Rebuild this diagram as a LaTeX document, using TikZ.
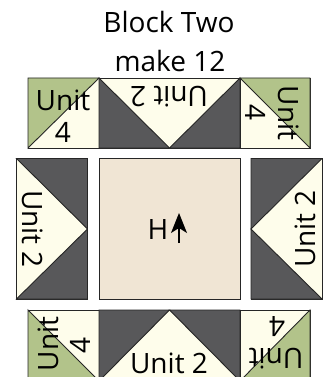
\documentclass[tikz,border=0pt]{standalone}
\usepackage{fontspec}
\usetikzlibrary{arrows.meta}
\setmainfont{Open Sans}
\definecolor{cream}{HTML}{FEFDEB}
\definecolor{dark}{HTML}{58585A}
\definecolor{leaf}{HTML}{B2C38A}
\definecolor{tan}{HTML}{F0E5D4}
\tikzset{
  patch/.style={draw=black!85,line width=0.9pt,line join=miter},
  lab/.style={inner sep=0pt,font=\fontsize{28}{28}\selectfont,text=black},
  titletext/.style={inner sep=0pt,font=\fontsize{28}{28}\selectfont,text=black}
}
\begin{document}
\begin{tikzpicture}[x=1pt,y=-1pt]
\useasboundingbox (0,0) rectangle (323,377);
\clip (0,0) rectangle (323,377);
\fill[white] (0,0) rectangle (323,377);
% top row
\filldraw[patch,fill=cream] (28,78) rectangle (99,148);
\filldraw[patch,fill=leaf] (28,148) -- (28,78) -- (99,78) -- cycle;
\filldraw[patch,fill=cream] (99,78) rectangle (240,148);
\filldraw[patch,fill=dark] (99,78) -- (169.5,148) -- (99,148) -- cycle;
\filldraw[patch,fill=dark] (240,78) -- (169.5,148) -- (240,148) -- cycle;
\filldraw[patch,fill=cream] (240,78) rectangle (310,148);
\filldraw[patch,fill=leaf] (240,78) -- (310,78) -- (310,148) -- cycle;
% middle row
\filldraw[patch,fill=cream] (16.5,158.5) rectangle (87.5,299);
\filldraw[patch,fill=dark] (16.5,158.5) -- (87.5,158.5) -- (87.5,229) -- cycle;
\filldraw[patch,fill=dark] (16.5,299) -- (87.5,299) -- (87.5,229) -- cycle;
\filldraw[patch,fill=tan] (99,158.5) rectangle (240,299);
\filldraw[patch,fill=cream] (251,158.5) rectangle (322,299);
\filldraw[patch,fill=dark] (322,158.5) -- (251,158.5) -- (251,229) -- cycle;
\filldraw[patch,fill=dark] (322,299) -- (251,299) -- (251,229) -- cycle;
% bottom row
\filldraw[patch,fill=cream] (28,310) rectangle (99,381);
\filldraw[patch,fill=leaf] (28,310) -- (99,381) -- (28,381) -- cycle;
\filldraw[patch,fill=cream] (99,310) rectangle (240,381);
\filldraw[patch,fill=dark] (99,310) -- (169.5,310) -- (99,381) -- cycle;
\filldraw[patch,fill=dark] (240,310) -- (169.5,310) -- (240,381) -- cycle;
\filldraw[patch,fill=cream] (240,310) rectangle (310,381);
\filldraw[patch,fill=leaf] (310,310) -- (310,381) -- (240,381) -- cycle;
% titles
\node[titletext,anchor=base] (t1) at (169,33) {Block Two};
\node[titletext,anchor=base] (t2) at (170,72) {make 12};
% labels
\node[lab] (a1) at (63,100) {Unit};
\node[lab] (a2) at (63,132) {4};
\node[lab,rotate=180] (a3) at (169,97) {Unit 2};
\node[lab,rotate=-90] (a4) at (289,113) {Unit};
\node[lab,rotate=-90] (a5) at (256,113) {4};
\node[lab,rotate=-90] (b1) at (33,229) {Unit 2};
\node[lab,rotate=90] (b2) at (305,229) {Unit 2};
\node[lab] (h) at (158,230) {H};
\coordinate (ha) at (179,243);
\coordinate (hb) at (179,213);
\draw[line width=1.6pt,-{Stealth[length=20pt,width=16pt,inset=5pt]}] (ha) -- (hb);
\node[lab,rotate=90] (c1) at (48,344) {Unit};
\node[lab,rotate=90] (c2) at (80.5,345) {4};
\node[lab,anchor=base] (c3) at (169,373) {Unit 2};
\node[lab,rotate=180] (c4) at (276,359) {Unit};
\node[lab,rotate=180] (c5) at (277,327) {4};
\end{tikzpicture}
\end{document}
